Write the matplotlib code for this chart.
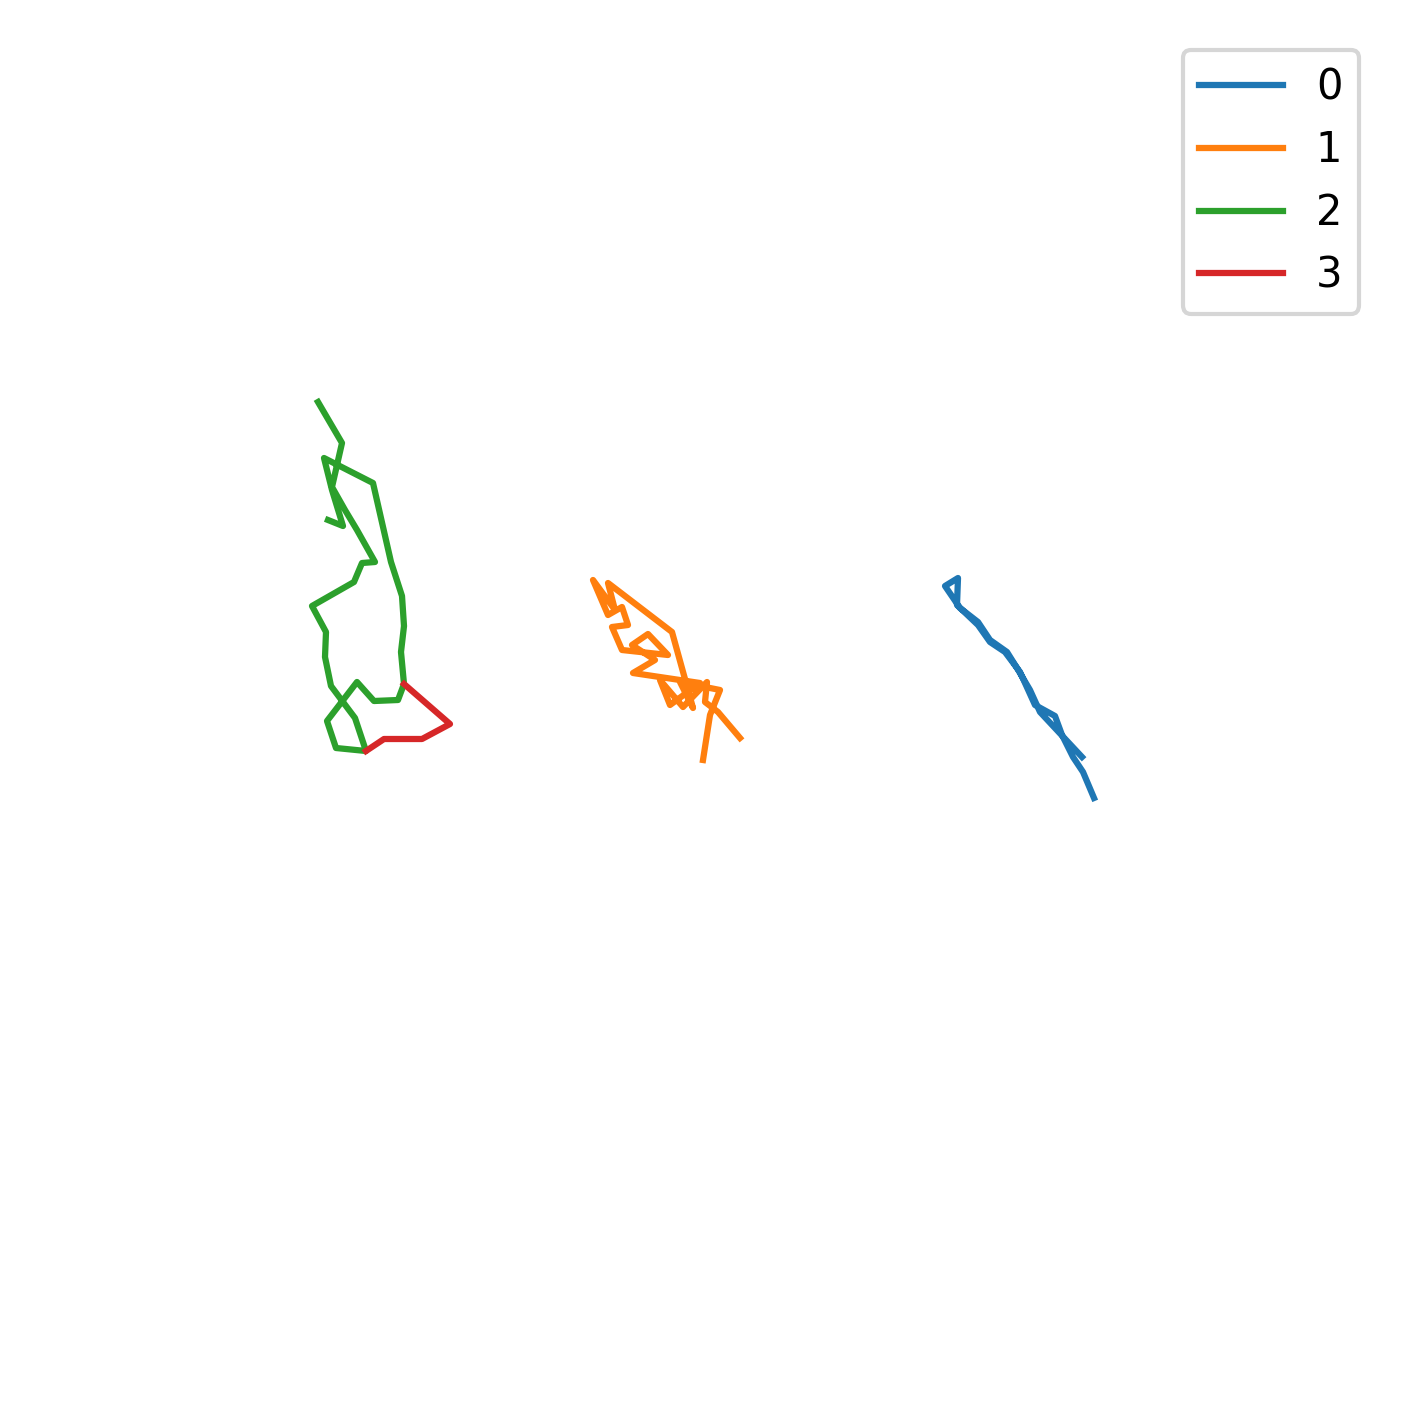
import matplotlib
matplotlib.use("Agg")
import matplotlib.pyplot as plt

# track coordinates (x, y), y grows downward
track_ids = ["0", "1", "2", "3"]
colors = ["#1f77b4", "#ff7f0e", "#2ca02c", "#d62728"]

x0 = [1082, 1040, 1030, 1017, 1007, 990, 978, 960, 945, 958, 957, 978, 990, 1005,
      1020, 1035, 1055, 1062, 1073, 1083, 1094]
y0 = [757, 712, 690, 668, 652, 640, 622, 608, 586, 578, 605, 625, 642, 652,
      672, 705, 716, 735, 757, 772, 798]

x1 = [703, 710, 720, 680, 693, 672, 608, 615, 593, 608, 622, 628, 612, 622, 668,
      648, 632, 655, 633, 700, 670, 660, 683, 707, 705, 718, 740]
y1 = [760, 715, 690, 682, 708, 632, 583, 610, 580, 615, 607, 625, 627, 650, 655,
      634, 645, 660, 673, 683, 705, 680, 707, 682, 702, 712, 738]

x2 = [318, 342, 332, 345, 357, 375, 362, 354, 312, 326, 325, 331, 355, 366, 336, 327,
      357, 374, 398, 404, 401, 404, 402, 391, 373, 324, 332, 343, 328]
y2 = [402, 443, 487, 510, 530, 562, 563, 582, 606, 632, 657, 686, 718, 751, 748, 721,
      682, 701, 700, 684, 652, 626, 596, 562, 483, 458, 490, 526, 520]

x3 = [404, 450, 422, 384, 366]
y3 = [684, 724, 739, 739, 751]

xs = [x0, x1, x2, x3]
ys = [y0, y1, y2, y3]

fig = plt.figure(figsize=(1409 / 300, 1410 / 300), dpi=300)
ax = fig.add_axes([0, 0, 1, 1])
for tid, c, x, y in zip(track_ids, colors, xs, ys):
    ax.plot(x, y, color=c, linewidth=1.5, label=tid)

ax.set_xlim(0, 1409)
ax.set_ylim(1410, 0)
ax.axis("off")
ax.legend(loc="upper right", bbox_to_anchor=(1380 / 1409, 1381 / 1410),
          bbox_transform=fig.transFigure)

fig.savefig("out.png", dpi=300)
